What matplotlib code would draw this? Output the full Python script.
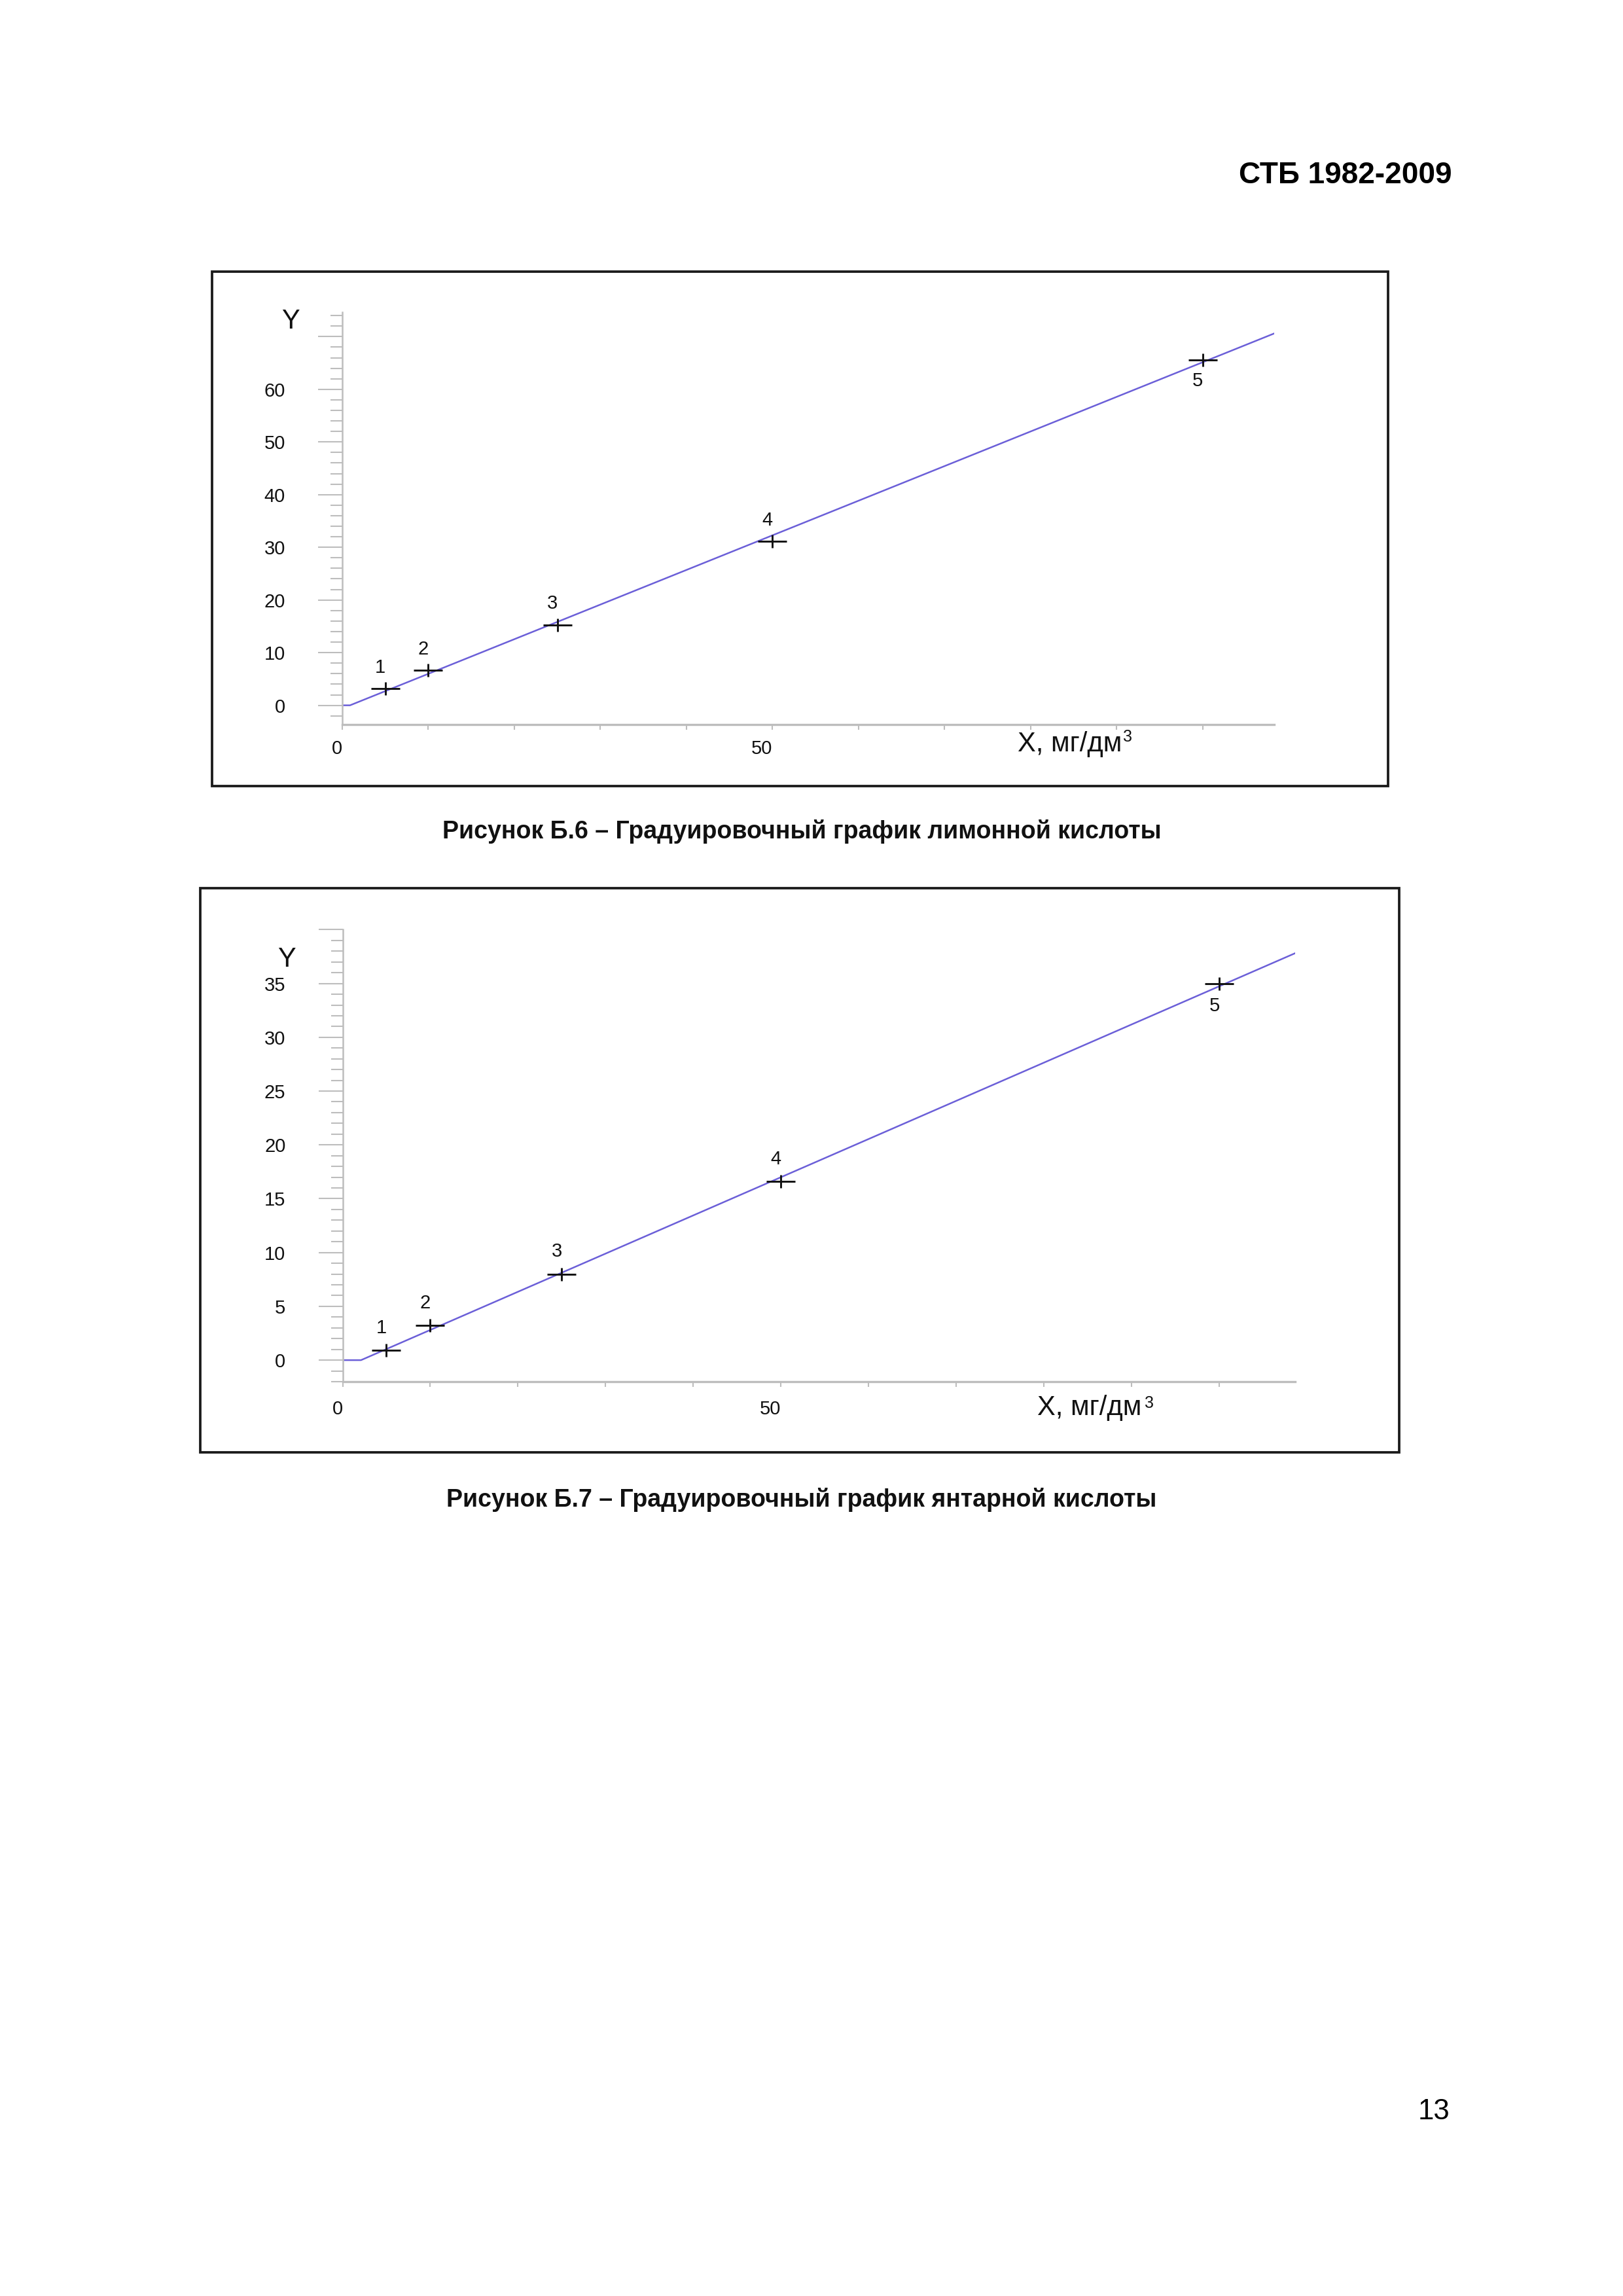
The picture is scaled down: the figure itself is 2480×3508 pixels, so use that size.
import matplotlib
matplotlib.use("Agg")
import matplotlib.pyplot as plt
from matplotlib.patches import Rectangle
from matplotlib.ticker import FixedLocator, MultipleLocator

plt.rcParams['font.family'] = ['Liberation Sans', 'DejaVu Sans']

# ---------------- data ----------------
point_labels = ['1', '2', '3', '4', '5']

# Figure B.6 - citric acid
citric_x = [5, 10, 25, 50, 100]
citric_y = [3.2, 6.7, 15.3, 31.1, 65.6]
citric_line_x = [0, 0.9, 108.3]
citric_line_y = [0, 0, 70.6]
citric_yticks = [0, 10, 20, 30, 40, 50, 60, 70]
citric_yticklabels = ['0', '10', '20', '30', '40', '50', '60', '']

# Figure B.7 - succinic acid
succinic_x = [5, 10, 25, 50, 100]
succinic_y = [0.9, 3.2, 8.0, 16.6, 35.0]
succinic_line_x = [0, 2.1, 108.6]
succinic_line_y = [0, 0, 37.8]
succinic_yticks = [0, 5, 10, 15, 20, 25, 30, 35, 40]
succinic_yticklabels = ['0', '5', '10', '15', '20', '25', '30', '35', '']

xticks = [0, 10, 20, 30, 40, 50, 60, 70, 80, 90, 100]
xticklabels = ['0', '', '', '', '', '50', '', '', '', '', '']

header = 'СТБ 1982-2009'
caption1 = 'Рисунок Б.6 – Градуировочный график лимонной кислоты'
caption2 = 'Рисунок Б.7 – Градуировочный график янтарной кислоты'
page_no = '13'

# ---------------- layout helpers ----------------
W, H, DPI = 2480, 3508, 300
fig = plt.figure(figsize=(W / DPI, H / DPI), dpi=DPI)
fig.patch.set_facecolor('white')


def fx(px):
    return px / W


def fy(py):
    return 1 - py / H


def box(x0, y0, x1, y1):
    fig.patches.append(Rectangle((fx(x0), fy(y1)), fx(x1) - fx(x0), fy(y0) - fy(y1),
                                 transform=fig.transFigure, fill=False,
                                 edgecolor='#1a1a1a', linewidth=0.9))


AX_COL = '#bdbdbd'
LINE_COL = '#6b5fd8'


def make_chart(px_left, px_right, px_top, px_bottom, xlim, ylim,
               px_, py_, lx, ly, yticks, yticklabels, yminor,
               xlabel_pos, ylabel_pos, x_pad, lab_off):
    ax = fig.add_axes([fx(px_left), fy(px_bottom), fx(px_right) - fx(px_left),
                       fy(px_top) - fy(px_bottom)])
    ax.set_xlim(*xlim)
    ax.set_ylim(*ylim)
    ax.patch.set_alpha(0)
    for s in ['top', 'right']:
        ax.spines[s].set_visible(False)
    ax.spines['left'].set_color(AX_COL)
    ax.spines['left'].set_linewidth(0.6)
    ax.spines['bottom'].set_color(AX_COL)
    ax.spines['bottom'].set_linewidth(0.8)

    ax.yaxis.set_major_locator(FixedLocator(yticks))
    ax.set_yticklabels(yticklabels)
    ax.yaxis.set_minor_locator(MultipleLocator(yminor))
    ax.tick_params(axis='y', which='major', length=8.9, width=0.5, color=AX_COL,
                   pad=12.0, labelsize=7.0, labelcolor='#111111')
    ax.tick_params(axis='y', which='minor', length=4.3, width=0.5, color=AX_COL)

    ax.xaxis.set_major_locator(FixedLocator(xticks))
    ax.set_xticklabels(xticklabels)
    ax.tick_params(axis='x', which='major', length=2.0, width=0.5, color=AX_COL,
                   pad=x_pad, labelsize=7.0, labelcolor='#111111')
    for lab in ax.get_xticklabels():
        lab.set_horizontalalignment('right')

    ax.plot(lx, ly, color=LINE_COL, linewidth=0.6, zorder=2)
    ax.plot(px_, py_, linestyle='none', marker='_', markersize=10.5,
            markeredgewidth=0.7, color='#111111', zorder=3)
    ax.plot(px_, py_, linestyle='none', marker='|', markersize=5.0,
            markeredgewidth=0.7, color='#111111', zorder=3)
    for i, (xv, yv) in enumerate(zip(px_, py_)):
        dy = lab_off if i < len(px_) - 1 else -lab_off
        ax.annotate(point_labels[i], (xv, yv), xytext=(-1.9, dy),
                    textcoords='offset points', ha='center', va='center',
                    fontsize=7.0, color='#111111')

    # axis titles
    fig.text(fx(xlabel_pos[0]), fy(xlabel_pos[1]), 'X, мг/дм', fontsize=10,
             ha='left', va='baseline', color='#111111')
    fig.text(fx(xlabel_pos[2]), fy(xlabel_pos[3]), '3', fontsize=6,
             ha='left', va='top', color='#111111')
    fig.text(fx(ylabel_pos[0]), fy(ylabel_pos[1]), 'Y', fontsize=10,
             ha='center', va='center', color='#111111')
    return ax


# Chart 1
box(324, 415, 2121, 1201)
make_chart(523, 1947, 476.5, 1106.6, (0, 108.3), (-3.6, 74.7),
           citric_x, citric_y, citric_line_x, citric_line_y,
           citric_yticks, citric_yticklabels, 2,
           (1555, 1148, 1716, 1114), (444, 491), 3.6, 7.7)

# Chart 2
box(306, 1357, 2138, 2219)
make_chart(523.5, 1978.6, 1420.4, 2111, (0, 108.6), (-2, 40),
           succinic_x, succinic_y, succinic_line_x, succinic_line_y,
           succinic_yticks, succinic_yticklabels, 1,
           (1585, 2161.7, 1749, 2132), (438, 1466), 4.7, 8.2)

# page texts
fig.text(fx(2218), fy(280), header, fontsize=11, fontweight='bold',
         ha='right', va='baseline', color='black')
fig.text(fx(1225), fy(1281), caption1, fontsize=9.0, fontweight='bold',
         ha='center', va='baseline', color='#111111')
fig.text(fx(1225), fy(2302), caption2, fontsize=9.0, fontweight='bold',
         ha='center', va='baseline', color='#111111')
fig.text(fx(2215), fy(3238), page_no, fontsize=10.5,
         ha='right', va='baseline', color='black')

fig.savefig('out.png', dpi=DPI, facecolor='white')
